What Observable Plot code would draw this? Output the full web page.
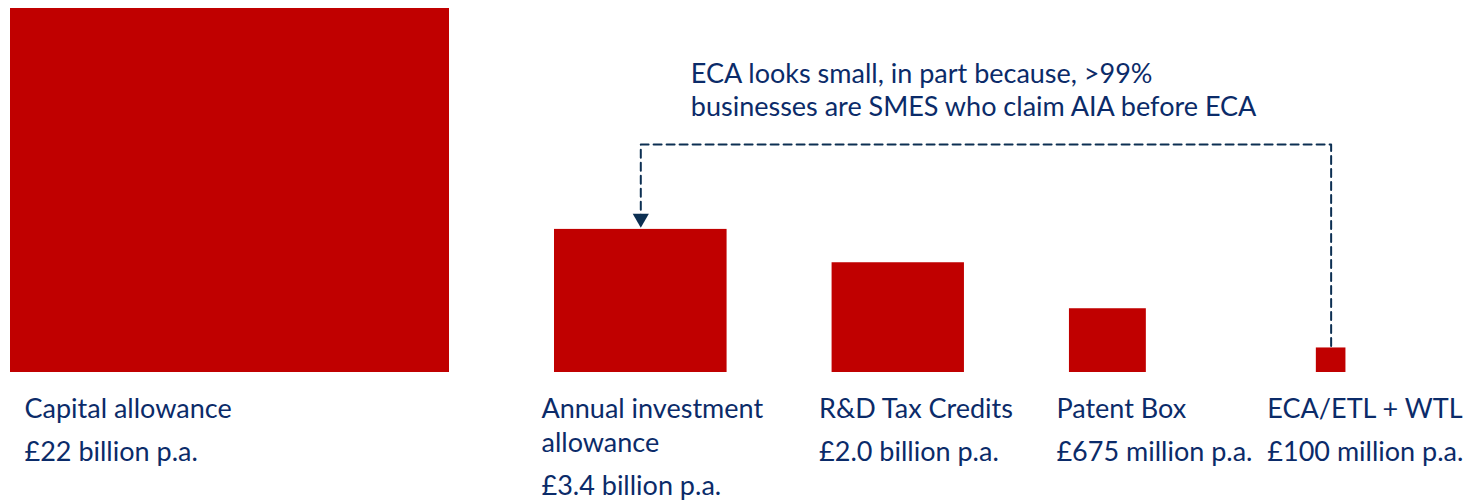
<!DOCTYPE html>
<html>
<head>
<meta charset="utf-8">
<script src="https://cdn.jsdelivr.net/npm/d3@7"></script>
<script src="https://cdn.jsdelivr.net/npm/@observablehq/plot@0.6"></script>
<style>
  html, body { margin: 0; padding: 0; background: #ffffff; }
  #chart svg { display: block; }
</style>
</head>
<body>
<div id="chart"></div>
<script>
// ---- data ----
const categories = ["Capital allowance", "Annual investment\nallowance", "R&D Tax Credits", "Patent Box", "ECA/ETL + WTL"];
const valuesBn = [22, 3.4, 2.0, 0.675, 0.1];
const valueLabels = ["£22 billion p.a.", "£3.4 billion p.a.", "£2.0 billion p.a.", "£675 million p.a.", "£100 million p.a."];
const annotationLines = ["ECA looks small, in part because, >99%", "businesses are SMES who claim AIA before ECA"];
const arrowFrom = "ECA/ETL + WTL";
const arrowTo = "Annual investment\nallowance";

// ---- layout / style ----
const W = 1468, H = 500;
const RED = "#C00000", TEXT = "#0B2B69", LINE = "#0C2F52";
const FONT = "Lato, 'Open Sans', sans-serif";
const FS = 27;
const BASE_PX = 372, TOP_PX = 8, LEFT_PX = 10;
const maxSide = Math.sqrt(d3.max(valuesBn));       // sqrt-billion units
const PXX = 439 / maxSide;                          // px per unit (x)
const PXY = (BASE_PX - TOP_PX) / maxSide;           // px per unit (y)
const GAP = 105 / PXX, GAP_LAST = 170 / PXX;
const NAME_BASE = 45, NAME_STEP = 34, VALUE_STEP = 43;

let cursor = 0;
const rows = categories.map((name, i) => {
  const s = Math.sqrt(valuesBn[i]);
  if (i > 0) cursor += (i === categories.length - 1 ? GAP_LAST : GAP);
  const x1 = cursor; cursor += s;
  return {name, value: valuesBn[i], label: valueLabels[i], i, x1, x2: x1 + s, xc: x1 + s / 2, top: s, nLines: name.split("\n").length};
});

const px = v => v / PXY; // px offset -> y units

// text lines under squares
const labelDx = i => (i === 0 ? 14 : i === rows.length - 1 ? -49 : -13) / PXX;
const textRows = [];
rows.forEach(r => {
  r.name.split("\n").forEach((line, j) => {
    textRows.push({text: line, x: r.x1 + labelDx(r.i), y: -px(NAME_BASE + j * NAME_STEP)});
  });
  textRows.push({text: r.label, x: r.x1 + labelDx(r.i), y: -px(NAME_BASE + (r.nLines - 1) * NAME_STEP + VALUE_STEP)});
});

const src = rows.find(r => r.name === arrowFrom);
const dst = rows.find(r => r.name === arrowTo);
const CONN = px(BASE_PX - 144);
const connector = [
  {x: src.xc, y: src.top + px(2)},
  {x: src.xc, y: CONN},
  {x: dst.xc, y: CONN},
  {x: dst.xc, y: dst.top + px(14)}
];
const annRows = annotationLines.map((t, j) => ({text: t, x: dst.xc + 50 / PXX, y: CONN + px(62 - j * 33)}));

const chart = Plot.plot({
  width: W, height: H,
  margin: 0,
  style: {fontFamily: FONT, background: "#ffffff"},
  x: {axis: null, domain: [-LEFT_PX / PXX, (W - LEFT_PX) / PXX], range: [0, W]},
  y: {axis: null, domain: [0, maxSide], range: [BASE_PX, TOP_PX]},
  marks: [
    Plot.rect(rows, {x1: "x1", x2: "x2", y1: 0, y2: "top", fill: RED}),
    Plot.line(connector, {x: "x", y: "y", stroke: LINE, strokeWidth: 2, strokeDasharray: "8,5", curve: "linear"}),
    Plot.dot([dst], {x: "xc", y: "top", symbol: "triangle", r: 6, rotate: 180, dy: -11, fill: LINE, stroke: null}),
    Plot.text(textRows, {x: "x", y: "y", text: "text", textAnchor: "start", lineAnchor: "bottom", fontSize: FS, fill: TEXT}),
    Plot.text(annRows, {x: "x", y: "y", text: "text", textAnchor: "start", lineAnchor: "bottom", fontSize: FS, fill: TEXT})
  ]
});
document.getElementById("chart").appendChild(chart);
</script>
</body>
</html>
